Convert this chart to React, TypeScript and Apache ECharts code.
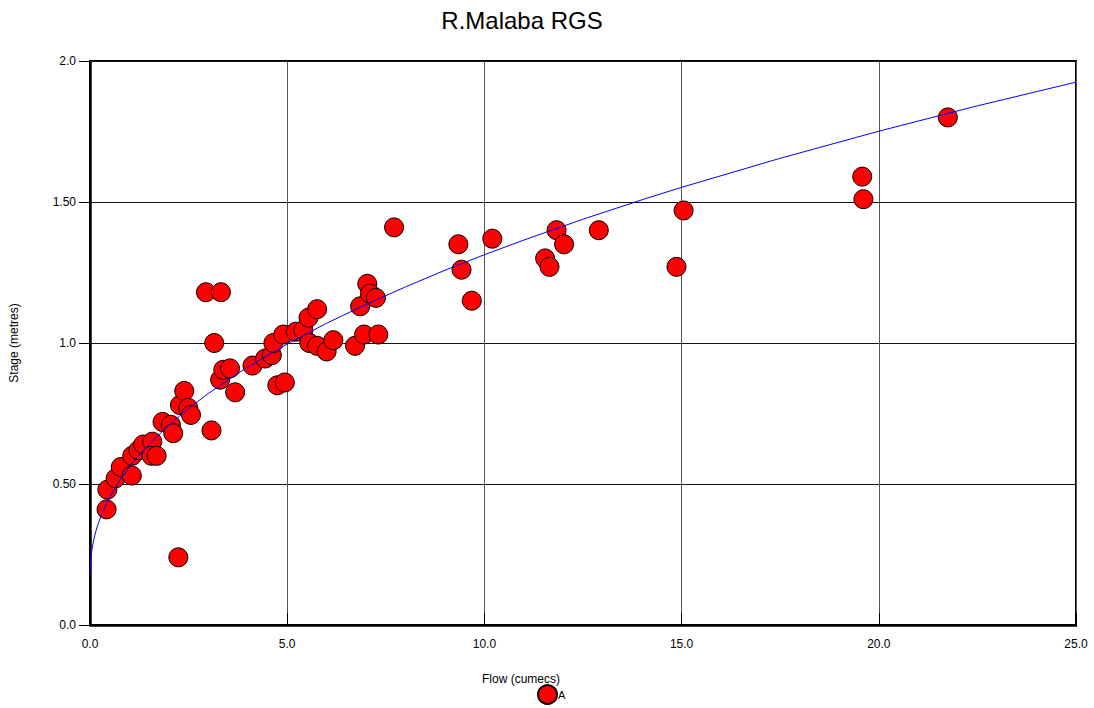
import React, { useEffect, useRef } from "react";
import * as echarts from "echarts";

// Gauged flow (cumecs) and stage (metres) for each measurement
const flow = [
  0.42, 0.44, 0.65, 0.78, 1.06, 1.07, 1.23, 1.35, 1.58, 1.56, 1.69, 1.84, 2.05, 2.11,
  2.24, 2.28, 2.39, 2.49, 2.56, 2.94, 3.32, 3.08, 3.15, 3.3, 3.38, 3.55, 3.68, 4.12,
  4.44, 4.61, 4.65, 4.9, 4.75, 4.94, 5.22, 5.41, 5.54, 5.76, 5.56, 5.76, 6.0, 6.17,
  6.72, 6.85, 6.95, 7.03, 7.1, 7.25, 7.31, 7.71, 9.34, 9.42, 9.68, 10.2, 11.54, 11.65,
  11.83, 12.02, 12.9, 14.87, 15.05, 19.58, 19.61, 21.75,
];
const stage = [
  0.41, 0.48, 0.52, 0.56, 0.53, 0.6, 0.62, 0.64, 0.65, 0.6, 0.6, 0.72, 0.71, 0.68,
  0.24, 0.78, 0.83, 0.77, 0.745, 1.18, 1.18, 0.69, 1.0, 0.87, 0.905, 0.91, 0.825, 0.92,
  0.945, 0.957, 1.0, 1.03, 0.85, 0.86, 1.04, 1.045, 1.09, 1.12, 1.0, 0.99, 0.97, 1.01,
  0.99, 1.13, 1.03, 1.21, 1.175, 1.16, 1.03, 1.41, 1.35, 1.26, 1.15, 1.37, 1.3, 1.27,
  1.4, 1.35, 1.4, 1.27, 1.47, 1.59, 1.51, 1.8,
];

// Rating curve, flow against stage
const curveFlow = [
  0, 0.02, 0.05, 0.1, 0.15, 0.2, 0.3, 0.4, 0.5, 0.75, 1, 1.25, 1.5, 2, 2.5, 3, 3.5, 4, 5,
  6, 7, 8, 9, 10, 11, 12.5, 14, 15, 17.5, 20, 22.5, 25,
];
const curveStage = [
  0.175, 0.232, 0.269, 0.306, 0.333, 0.356, 0.394, 0.426, 0.453, 0.512, 0.561, 0.603,
  0.641, 0.709, 0.768, 0.821, 0.869, 0.915, 0.996, 1.07, 1.137, 1.199, 1.258, 1.313,
  1.365, 1.439, 1.508, 1.552, 1.655, 1.751, 1.841, 1.925,
];

const yTickValues = [0, 0.5, 1, 1.5, 2];
const yTickLabels = ["0.0", "0.50", "1.0", "1.50", "2.0"];

const FONT = "Liberation Sans, Arial, Helvetica, sans-serif";

export default function App() {
  const ref = useRef<HTMLDivElement>(null);

  useEffect(() => {
    if (!ref.current) return;
    const chart = echarts.init(ref.current, undefined, { renderer: "svg" });

    const points = flow.map((q, i) => [q, stage[i]]);
    const curve = curveFlow.map((q, i) => [q, curveStage[i]]);

    chart.setOption({
      animation: false,
      backgroundColor: "#ffffff",
      textStyle: { fontFamily: FONT },
      grid: {
        left: 90,
        right: 18,
        top: 61,
        bottom: 83,
        containLabel: false,
        outerBoundsMode: "none",
        show: true,
        borderColor: "#000",
        borderWidth: 2,
        backgroundColor: "transparent",
      },
      graphic: [
        {
          type: "text",
          x: 522,
          y: 20,
          style: {
            text: "R.Malaba RGS",
            font: `24px ${FONT}`,
            fill: "#000",
            textAlign: "center",
            textVerticalAlign: "middle",
          },
        },
        {
          type: "text",
          x: 521,
          y: 679,
          style: {
            text: "Flow (cumecs)",
            font: `12px ${FONT}`,
            fill: "#000",
            textAlign: "center",
            textVerticalAlign: "middle",
          },
        },
      ],
      legend: {
        data: ["A"],
        left: 537,
        top: 684,
        padding: 0,
        itemWidth: 19,
        itemHeight: 19,
        itemGap: 0,
        textStyle: { fontSize: 11, color: "#000", fontFamily: FONT, padding: [0, 0, 0, -4] },
      },
      xAxis: {
        type: "value",
        min: 0,
        max: 25,
        interval: 5,
        axisLine: { show: true, onZero: false, lineStyle: { color: "#000", width: 2.5 } },
        axisTick: { show: true, inside: true, length: 12, lineStyle: { color: "#000", width: 1 } },
        axisLabel: {
          margin: 13,
          fontSize: 12,
          color: "#000",
          fontFamily: FONT,
          formatter: (v: number) => v.toFixed(1),
        },
        splitLine: { show: true, lineStyle: { color: "#555", width: 1 } },
      },
      yAxis: {
        type: "value",
        min: 0,
        max: 2,
        interval: 0.5,
        name: "Stage (metres)",
        nameLocation: "middle",
        nameGap: 70,
        nameTextStyle: { fontSize: 12, color: "#000", fontFamily: FONT },
        axisLine: { show: true, onZero: false, lineStyle: { color: "#000", width: 2.5 } },
        axisTick: { show: true, inside: false, length: 11, lineStyle: { color: "#000", width: 1 } },
        axisLabel: {
          margin: 14,
          fontSize: 12,
          color: "#000",
          fontFamily: FONT,
          formatter: (v: number) => {
            const i = yTickValues.indexOf(v);
            return i >= 0 ? yTickLabels[i] : String(v);
          },
        },
        splitLine: { show: true, lineStyle: { color: "#111", width: 1 } },
      },
      series: [
        {
          name: "A",
          type: "scatter",
          data: points,
          symbol: "circle",
          symbolSize: 19,
          itemStyle: { color: "#ff0000", borderColor: "#000", borderWidth: 1, opacity: 1 },
        },
        {
          name: "curve",
          type: "line",
          data: curve,
          showSymbol: false,
          smooth: false,
          lineStyle: { color: "#0000ff", width: 1 },
          silent: true,
        },
      ],
    });

    return () => chart.dispose();
  }, []);

  return (
    <div
      ref={ref}
      style={{ position: "absolute", left: 0, top: 0, width: 1094, height: 708 }}
    />
  );
}
